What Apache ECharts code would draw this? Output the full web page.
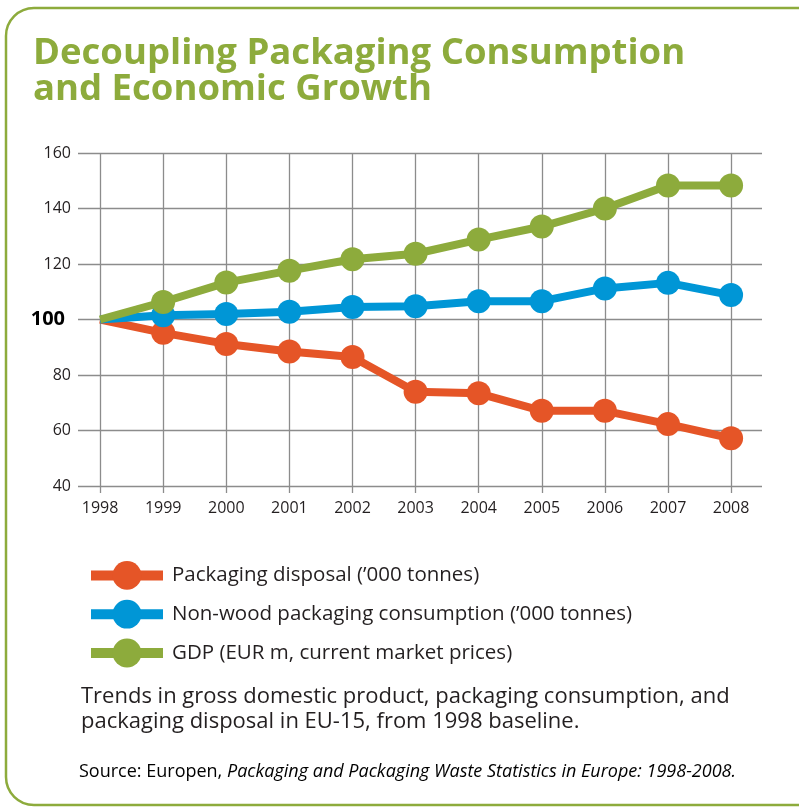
<!DOCTYPE html>
<html>
<head>
<meta charset="utf-8">
<style>
  html, body { margin: 0; padding: 0; background: #fff; }
  #chart { width: 799px; height: 812px; }
</style>
<script src="https://cdn.jsdelivr.net/npm/echarts@6/dist/echarts.min.js"></script>
</head>
<body>
<div id="chart"></div>
<script>
// years on the x axis
var years = [1998, 1999, 2000, 2001, 2002, 2003, 2004, 2005, 2006, 2007, 2008];
// index values, 1998 = 100
var disposal = [100, 95.2, 91.2, 88.5, 86.5, 74, 73.4, 67.1, 67.1, 62.3, 57.2];
var consumption = [100, 101.5, 102, 102.8, 104.5, 104.8, 106.6, 106.6, 111.2, 113.2, 108.8];
var gdp = [100, 106.3, 113.3, 117.6, 121.7, 123.7, 128.8, 133.5, 140, 148.3, 148.3];
var seriesNames = [
  "Packaging disposal (\u2019000 tonnes)",
  "Non-wood packaging consumption (\u2019000 tonnes)",
  "GDP (EUR m, current market prices)"
];

var green = '#8dab3c';
var font = 'Open Sans';

function pairs(vals) {
  return years.map(function (y, i) { return [y, vals[i]]; });
}

function lineSeries(name, color, vals) {
  return {
    name: name,
    type: 'line',
    data: pairs(vals),
    symbol: 'circle',
    symbolSize: function (v, p) { return p.dataIndex === 0 ? 0 : 24; },
    lineStyle: { width: 8, color: color },
    itemStyle: { color: color },
    emphasis: { disabled: true },
    animation: false
  };
}

var chart = echarts.init(document.getElementById('chart'));
chart.setOption({
  animation: false,
  title: {
    text: 'Decoupling Packaging Consumption\nand Economic Growth',
    left: 33,
    top: 36,
    padding: 0,
    textStyle: {
      fontFamily: font,
      fontWeight: 'bold',
      fontSize: 36.5,
      lineHeight: 36,
      color: green
    }
  },
  legend: {
    orient: 'vertical',
    left: 86,
    top: 561,
    padding: 0,
    itemWidth: 72,
    itemHeight: 36,
    itemGap: 10,
    data: seriesNames,
    lineStyle: { width: 10 },
    textStyle: {
      fontFamily: font,
      fontSize: 20.5,
      color: '#231f20',
      padding: [0, 0, 0, 4]
    }
  },
  grid: {
    left: 78,
    right: 37,
    top: 153,
    bottom: 326,
    containLabel: false
  },
  xAxis: {
    type: 'value',
    min: 1997.65,
    max: 2008.49,
    axisLine: { show: false },
    axisTick: {
      show: true,
      length: 7,
      customValues: years,
      lineStyle: { color: '#8c8c8c', width: 1.3 }
    },
    axisLabel: {
      customValues: years,
      margin: 14,
      fontFamily: font,
      fontSize: 16,
      color: '#231f20',
      formatter: function (v) { return String(v); }
    },
    splitLine: {
      show: true,
      lineStyle: { color: '#8c8c8c', width: 1.3 }
    }
  },
  yAxis: {
    type: 'value',
    min: 40,
    max: 160,
    interval: 20,
    axisLine: { show: false },
    axisTick: { show: false },
    axisLabel: {
      margin: 7,
      fontFamily: font,
      fontSize: 16,
      color: '#231f20',
      formatter: function (v) { return v === 100 ? '{b|100}' : String(v); },
      rich: {
        b: { fontFamily: font, fontSize: 20, fontWeight: 'bold', color: '#000', padding: [0, 6, 0, 0] }
      }
    },
    splitLine: {
      show: true,
      lineStyle: { color: '#8c8c8c', width: 1.3 }
    }
  },
  series: [
    lineSeries(seriesNames[0], '#e55527', disposal),
    lineSeries(seriesNames[1], '#0096d6', consumption),
    lineSeries(seriesNames[2], '#8dab3c', gdp)
  ],
  graphic: [
    {
      type: 'rect',
      shape: { x: 6, y: 8, width: 820, height: 797, r: 28 },
      style: { fill: 'none', stroke: green, lineWidth: 2.5 },
      silent: true
    },
    {
      type: 'text',
      left: 81,
      top: 684,
      style: {
        text: 'Trends in gross domestic product, packaging consumption, and\npackaging disposal in EU-15, from 1998 baseline.',
        font: '22px "Open Sans"',
        lineHeight: 25,
        fill: '#231f20'
      }
    },
    {
      type: 'text',
      left: 79,
      top: 763,
      style: {
        text: '{n|Source: Europen, }{i|Packaging and Packaging Waste Statistics in Europe: 1998-2008.}',
        rich: {
          n: { fontFamily: font, fontSize: 18, color: '#8a8a8a' },
          i: { fontFamily: font, fontSize: 18, fontStyle: 'italic', color: '#8a8a8a' }
        }
      }
    }
  ]
});
</script>
</body>
</html>
